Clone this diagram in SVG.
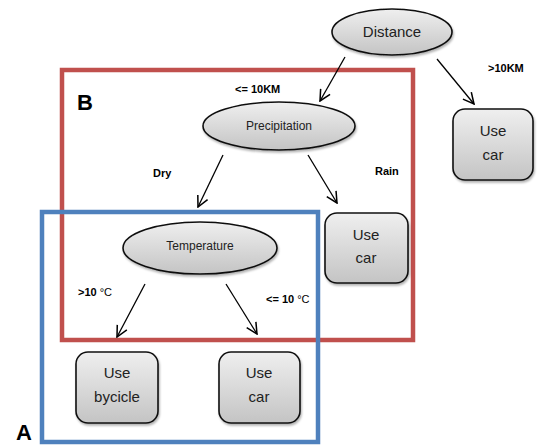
<svg xmlns="http://www.w3.org/2000/svg" width="537" height="446" viewBox="0 0 537 446">
  <defs>
    <linearGradient id="fillGrad" x1="0" y1="0" x2="0" y2="1">
      <stop offset="0" stop-color="#efefef"/>
      <stop offset="1" stop-color="#c4c4c4"/>
    </linearGradient>
    <marker id="arrow" viewBox="0 0 12 12" refX="11" refY="6" markerWidth="13" markerHeight="13" markerUnits="userSpaceOnUse" orient="auto">
      <path d="M1,1 L11,6 L1,11" fill="none" stroke="#000" stroke-width="1.4"/>
    </marker>
    <filter id="shadow" x="-20%" y="-20%" width="140%" height="150%">
      <feDropShadow dx="1" dy="2" stdDeviation="1.2" flood-color="#000" flood-opacity="0.3"/>
    </filter>
  </defs>
  <style>
    .node { fill: url(#fillGrad); stroke: #111; stroke-width: 1.6; filter: url(#shadow); }
    .nodeText { font-family: "Liberation Sans", Arial, sans-serif; fill: #222; text-anchor: middle; }
    .big { font-size: 15px; }
    .small { font-size: 12px; }
    .edge { stroke: #000; stroke-width: 1.3; fill: none; marker-end: url(#arrow); }
    .label { font-family: "Liberation Sans", Arial, sans-serif; font-size: 11px; font-weight: bold; fill: #000; }
    .region { fill: none; stroke-width: 4.5; }
    .regionLabel { font-family: "Liberation Sans", Arial, sans-serif; font-weight: bold; font-size: 22px; fill: #000; }
  </style>

  <rect width="537" height="446" fill="#fff"/>

  <!-- Region B (red) -->
  <g id="regionB">
    <rect class="region" x="62" y="70" width="351" height="270" stroke="#c0504d"/>
    <text class="regionLabel" x="77" y="110">B</text>
  </g>

  <!-- Region A (blue) -->
  <g id="regionA">
    <rect class="region" x="42" y="212" width="276" height="230" stroke="#4f81bd"/>
    <text class="regionLabel" x="16" y="440">A</text>
  </g>

  <!-- Connectors -->
  <g id="connectors">
    <line class="edge" x1="345" y1="57" x2="320" y2="101"/>
    <line class="edge" x1="437" y1="59" x2="474" y2="104"/>
    <line class="edge" x1="223" y1="155" x2="198" y2="207"/>
    <line class="edge" x1="308" y1="155" x2="337" y2="203"/>
    <line class="edge" x1="145" y1="284" x2="117" y2="337"/>
    <line class="edge" x1="226" y1="284" x2="257" y2="334"/>
    <text class="label" x="235" y="93">&lt;= 10KM</text>
    <text class="label" x="488" y="72">&gt;10KM</text>
    <text class="label" x="153" y="177">Dry</text>
    <text class="label" x="375" y="175">Rain</text>
    <text class="label" x="78" y="296">&gt;10 <tspan font-weight="normal">°C</tspan></text>
    <text class="label" x="266" y="303">&lt;= 10 <tspan font-weight="normal">°C</tspan></text>
  </g>

  <!-- Decision nodes -->
  <g id="distance">
    <ellipse class="node" cx="392" cy="32" rx="60" ry="23"/>
    <text class="nodeText big" x="392" y="37">Distance</text>
  </g>
  <g id="precipitation">
    <ellipse class="node" cx="279" cy="126" rx="76" ry="24"/>
    <text class="nodeText small" x="279" y="130">Precipitation</text>
  </g>
  <g id="temperature">
    <ellipse class="node" cx="200" cy="248" rx="77" ry="26"/>
    <text class="nodeText small" x="200" y="250">Temperature</text>
  </g>

  <!-- Outcome nodes -->
  <g id="carFar">
    <rect class="node" x="453" y="109" width="80" height="71" rx="12"/>
    <text class="nodeText big" x="493" y="136">Use</text>
    <text class="nodeText big" x="493" y="160">car</text>
  </g>
  <g id="carRain">
    <rect class="node" x="325" y="213" width="83" height="70" rx="12"/>
    <text class="nodeText big" x="366" y="240">Use</text>
    <text class="nodeText big" x="366" y="263">car</text>
  </g>
  <g id="bicycle">
    <rect class="node" x="76" y="352" width="82" height="71" rx="12"/>
    <text class="nodeText big" x="117" y="378">Use</text>
    <text class="nodeText big" x="117" y="402">bycicle</text>
  </g>
  <g id="carCold">
    <rect class="node" x="219" y="352" width="81" height="71" rx="12"/>
    <text class="nodeText big" x="259" y="378">Use</text>
    <text class="nodeText big" x="259" y="402">car</text>
  </g>
</svg>
